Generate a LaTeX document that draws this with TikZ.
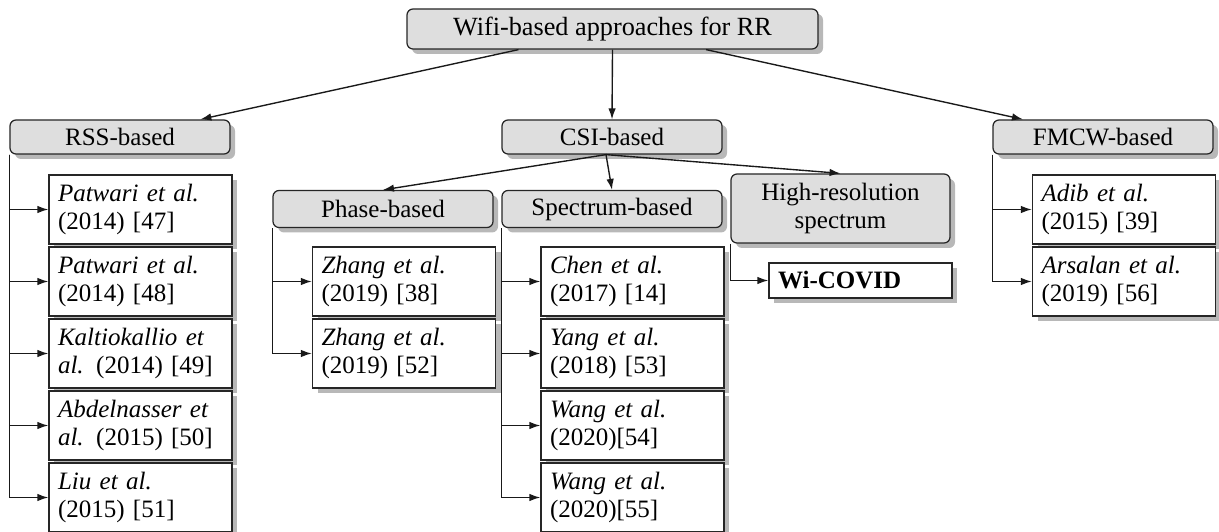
\documentclass[tikz,border=0pt]{standalone}
\usepackage{fontspec}
\setmainfont{Liberation Serif}
\usetikzlibrary{shadows,arrows.meta}
\begin{document}
\begin{tikzpicture}[x=0.4pt,y=-0.4pt,
  font=\fontsize{10}{11.5}\selectfont,
  shade/.style={drop shadow={shadow xshift=2pt,shadow yshift=-2pt,fill=black!28,opacity=1}},
  catbox/.style={draw=black!85,line width=0.5pt,rounded corners=2.4pt,fill=black!13,shade,
    align=center,inner sep=0pt,minimum width=88pt,minimum height=13.6pt},
  refbox/.style={draw=black!85,line width=0.5pt,fill=white,shade,text width=66pt,
    inner xsep=3.6pt,inner ysep=0pt,minimum height=27.6pt,align=left},
  link/.style={draw=black!90,line width=0.55pt,-{Latex[length=4.4pt,width=3pt]}},
]
\useasboundingbox (0,0) rectangle (1219,532);

% top level
\node[catbox,minimum width=164.4pt,minimum height=16pt,font=\fontsize{10.5}{12}\selectfont] (root) at (612.5,29) {Wifi-based approaches for RR};

% families
\node[catbox] (rss)  at (120,137)  {RSS-based};
\node[catbox] (csi)  at (612,137)  {CSI-based};
\node[catbox] (fmcw) at (1103,137) {FMCW-based};

% CSI sub-families
\node[catbox,minimum height=14.8pt] (phase) at (383,209) {Phase-based};
\node[catbox,minimum height=14.8pt] (spec)  at (612,209) {Spectrum-based};
\node[catbox,minimum width=87.6pt,minimum height=27.6pt] (hires) at (840.5,208.5) {High-resolution\\spectrum};

% RSS-based works
\node[refbox] (r1) at (140.5,209.5) {\textit{Patwari et al.}\\(2014) [47]};
\node[refbox] (r2) at (140.5,281.5) {\textit{Patwari et al.}\\(2014) [48]};
\node[refbox] (r3) at (140.5,353.5) {\textit{Kaltiokallio et}\\\textit{al.}\hspace{0.5em}(2014) [49]};
\node[refbox] (r4) at (140.5,425.5) {\textit{Abdelnasser et}\\\textit{al.}\hspace{0.5em}(2015) [50]};
\node[refbox] (r5) at (140.5,497.5) {\textit{Liu et al.}\\(2015) [51]};

% phase-based works
\node[refbox] (p1) at (404,281.5) {\textit{Zhang et al.}\\(2019) [38]};
\node[refbox] (p2) at (404,353.5) {\textit{Zhang et al.}\\(2019) [52]};

% spectrum-based works
\node[refbox] (s1) at (632.5,281.5) {\textit{Chen et al.}\\(2017) [14]};
\node[refbox] (s2) at (632.5,353.5) {\textit{Yang et al.}\\(2018) [53]};
\node[refbox] (s3) at (632.5,425.5) {\textit{Wang et al.}\\(2020)[54]};
\node[refbox] (s4) at (632.5,497.5) {\textit{Wang et al.}\\(2020)[55]};

% high-resolution spectrum
\node[refbox,minimum height=14pt] (wc) at (860.5,280.5) {\textbf{Wi-COVID}};

% FMCW-based works
\node[refbox] (f1) at (1124,209.5) {\textit{Adib et al.}\\(2015) [39]};
\node[refbox] (f2) at (1124,281.5) {\textit{Arsalan et al.}\\(2019) [56]};

% tree links
\draw[link] (root) -- (rss);
\draw[link] (root.south) -- (csi.north);
\draw[link] (root) -- (fmcw);

\coordinate (csiout) at ([xshift=-2.4pt]csi.south);
\draw[link] (csiout) -- (phase.north);
\draw[link] (csiout) -- (spec.north);
\draw[link] (csiout) -- (hires.north);

\foreach \leaf in {r1,r2,r3,r4,r5}
  \draw[link] (rss.south west) |- (\leaf.west);
\foreach \leaf in {p1,p2}
  \draw[link] (phase.south west) |- (\leaf.west);
\foreach \leaf in {s1,s2,s3,s4}
  \draw[link] (spec.south west) |- (\leaf.west);
\draw[link] (hires.south west) |- (wc.west);
\foreach \leaf in {f1,f2}
  \draw[link] (fmcw.south west) |- (\leaf.west);
\end{tikzpicture}
\end{document}
